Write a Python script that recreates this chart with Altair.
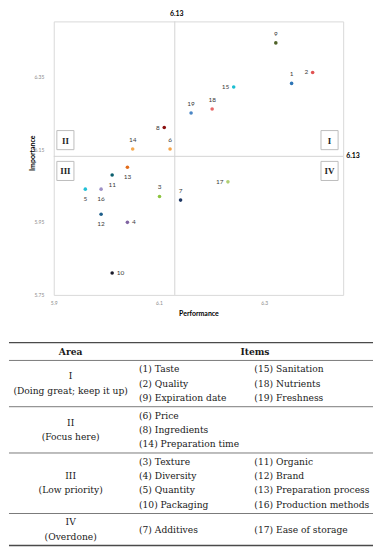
import altair as alt
import pandas as pd

# ---------------- data ----------------
item_ids = list(range(1, 20))
performance = [6.352, 6.392, 6.101, 6.040, 5.960, 6.121, 6.141, 6.110, 6.322, 6.011,
               6.011, 5.990, 6.040, 6.050, 6.242, 5.990, 6.231, 6.201, 6.161]
importance = [6.330, 6.360, 6.020, 5.949, 6.040, 6.150, 6.010, 6.209, 6.441, 5.810,
              6.079, 5.971, 6.100, 6.150, 6.320, 6.040, 6.060, 6.260, 6.249]
point_colors = ["#2e75b6", "#e05252", "#8cc43f", "#8064a2", "#21c0d6", "#f4a347", "#1f3864",
                "#8b1010", "#4f6228", "#1a1a2a", "#0b5f6e", "#1f5f8b", "#e36c1a", "#f5a84e",
                "#1cbfd2", "#9d90c6", "#b0cf74", "#e86868", "#4a86c5"]

label_above = [1, 3, 6, 7, 9, 14, 18, 19]
label_left = [2, 8, 15, 17]
label_below = [5, 11, 12, 13, 16]
label_right = [4, 10]

perf_mean = 6.13
imp_mean = 6.13
x_ticks = [5.9, 6.1, 6.3]
y_ticks = [5.75, 5.95, 6.15, 6.35]
x_domain = [5.9, 6.45]
y_domain = [5.75, 6.5]
quadrant_names = ["I", "II", "III", "IV"]

table_header = ["Area", "Items"]
area_names = ["I", "II", "III", "IV"]
area_notes = ["(Doing great; keep it up)", "(Focus here)", "(Low priority)", "(Overdone)"]
items_col1 = [
    ["(1) Taste", "(2) Quality", "(9) Expiration date"],
    ["(6) Price", "(8) Ingredients", "(14) Preparation time"],
    ["(3) Texture", "(4) Diversity", "(5) Quantity", "(10) Packaging"],
    ["(7) Additives"],
]
items_col2 = [
    ["(15) Sanitation", "(18) Nutrients", "(19) Freshness"],
    [],
    ["(11) Organic", "(12) Brand", "(13) Preparation process", "(16) Production methods"],
    ["(17) Ease of storage"],
]

# ---------------- scatter ----------------
W, H = 291, 275
LEFT = 45  # room for the y axis, shared with the table panel
sans = "Lato"
pts = pd.DataFrame({"id": [str(i) for i in item_ids], "num": item_ids,
                    "perf": performance, "imp": importance})

xs = alt.Scale(domain=x_domain, nice=False, zero=False)
ys = alt.Scale(domain=y_domain, nice=False, zero=False)
X = alt.X("perf:Q", scale=xs, axis=alt.Axis(
    values=x_ticks, format=".1f", title="Performance", labelPadding=5.5, titlePadding=4,
    grid=False, domain=False, ticks=False, labelFlush=False, labelFontSize=5,
    labelColor="#8c8c8c", labelFont=sans, titleFont=sans, titleFontSize=7,
    titleFontWeight="bold", titleColor="#000000"))
Y = alt.Y("imp:Q", scale=ys, axis=alt.Axis(
    values=y_ticks, format=".2f", title="Importance", labelPadding=10,
    grid=False, domain=False, ticks=False, labelFontSize=5, labelColor="#8c8c8c",
    labelFont=sans, titleFont=sans, titleFontSize=7, titleFontWeight="bold",
    titleColor="#000000", minExtent=LEFT, maxExtent=LEFT, titleX=-21, titleY=132,
    titleBaseline="middle", titleAngle=270, titleAlign="center"))

vline = alt.Chart(pd.DataFrame({"perf": [perf_mean]})).mark_rule(
    color="#d4d4d4", strokeWidth=1).encode(X)
hline = alt.Chart(pd.DataFrame({"imp": [imp_mean]})).mark_rule(
    color="#d4d4d4", strokeWidth=1).encode(Y)

points = alt.Chart(pts).mark_circle(size=13, opacity=1).encode(
    X, Y, color=alt.Color("id:N", scale=alt.Scale(domain=[str(i) for i in item_ids],
                                                  range=point_colors), legend=None))


def labels(ids, **kw):
    return alt.Chart(pts).transform_filter(
        alt.FieldOneOfPredicate(field="num", oneOf=ids)
    ).mark_text(font=sans, fontSize=6.5, color="#3a3a3a", baseline="middle", **kw).encode(
        X, Y, text="id:N")


lab_layers = [
    labels(label_above, align="center", dy=-9.3),
    labels(label_left, align="right", dx=-4.5),
    labels(label_below, align="center", dy=10),
    labels(label_right, align="left", dx=4.5),
]

top_lab = alt.Chart(pd.DataFrame({"perf": [perf_mean], "imp": [y_domain[1]],
                                  "t": [f"{perf_mean:.2f}"]})).mark_text(
    font=sans, fontSize=7, fontWeight="bold", color="#000000", dy=-7, dx=2,
    baseline="middle").encode(X, Y, text="t:N")
right_lab = alt.Chart(pd.DataFrame({"perf": [x_domain[1]], "imp": [imp_mean],
                                    "t": [f"{imp_mean:.2f}"]})).mark_text(
    font=sans, fontSize=7, fontWeight="bold", color="#000000", dx=3, align="left",
    baseline="middle").encode(X, Y, text="t:N")

BOX = "M-0.86,-0.96H0.86V0.96H-0.86Z"
quad_layers = []
for q in quadrant_names:
    right = q in ("I", "IV")
    top = q in ("I", "II")
    qdf = pd.DataFrame({"perf": [x_domain[1] if right else x_domain[0]],
                        "imp": [imp_mean], "q": [q]})
    xo = -13.7 if right else 11.7
    yo = -16.3 if top else 14.7
    quad_layers.append(alt.Chart(qdf).mark_point(
        shape=BOX, size=400, filled=True, fill="white", stroke="#bdbdbd",
        strokeWidth=1, opacity=1, xOffset=xo, yOffset=yo).encode(X, Y))
    quad_layers.append(alt.Chart(qdf).mark_text(
        font="Liberation Serif", fontSize=9, fontWeight="bold", color="#262626",
        dx=xo, dy=yo + 0.5, baseline="middle").encode(X, Y, text="q:N"))

scatter = alt.layer(vline, hline, *quad_layers, points, *lab_layers, top_lab, right_lab).properties(
    width=W, height=H, view=alt.ViewBackground(stroke="#d9d9d9", strokeWidth=1))

# ---------------- table ----------------
FULL_W = 366
TW, TH = FULL_W - LEFT, 204
pad = 0.25
text_rows = []
rule_rows = []
pos = 0.0
rule_rows.append({"y": pos, "kind": "outer"})
head_h = 1 + pad
text_rows.append({"t": table_header[0], "y": pos + head_h / 2, "col": "head1"})
text_rows.append({"t": table_header[1], "y": pos + head_h / 2, "col": "head2"})
pos += head_h
rule_rows.append({"y": pos, "kind": "inner"})
for k in range(len(area_names)):
    c1, c2 = items_col1[k], items_col2[k]
    n = max(len(c1), len(c2), 2)
    h = n + pad
    center = pos + h / 2
    text_rows.append({"t": area_names[k], "y": center - 0.5, "col": "area"})
    text_rows.append({"t": area_notes[k], "y": center + 0.5, "col": "area"})
    for col, items in (("c1", c1), ("c2", c2)):
        m = len(items)
        for j, t in enumerate(items):
            text_rows.append({"t": t, "y": center + j - (m - 1) / 2, "col": col})
    pos += h
    rule_rows.append({"y": pos, "kind": "outer" if k == len(area_names) - 1 else "inner"})
total = pos

tdf = pd.DataFrame(text_rows)
rdf = pd.DataFrame(rule_rows)
TY = alt.Y("y:Q", scale=alt.Scale(domain=[0, total], reverse=True, nice=False, zero=False),
           axis=None)
serif = "DejaVu Serif"


def tcol(col, xpx, align, bold=False):
    return alt.Chart(tdf).transform_filter(alt.datum.col == col).mark_text(
        font=serif, fontSize=9.2, color="#1a1a1a", align=align, baseline="middle",
        fontWeight="bold" if bold else "normal").encode(
        x=alt.value(xpx - LEFT), y=TY, text="t:N")


outer_rules = alt.Chart(rdf).transform_filter(alt.datum.kind == "outer").mark_rule(
    color="#4a4a4a", strokeWidth=1.4).encode(y=TY, x=alt.value(-LEFT), x2=alt.value(TW))
inner_rules = alt.Chart(rdf).transform_filter(alt.datum.kind == "inner").mark_rule(
    color="#7a7a7a", strokeWidth=1).encode(y=TY, x=alt.value(-LEFT), x2=alt.value(TW))

table = alt.layer(
    outer_rules, inner_rules,
    tcol("head1", 62, "center", bold=True),
    tcol("head2", 247.3, "center", bold=True),
    tcol("area", 62, "center"),
    tcol("c1", 130.7, "left"),
    tcol("c2", 246.7, "left"),
).properties(width=TW, height=TH)

chart = alt.vconcat(scatter, table, spacing=25).properties(
    padding={"left": 0, "top": 0, "right": 0, "bottom": 0},
    background="white",
).configure_view(strokeWidth=0)

chart.save("out.html", embed_options={"renderer": "svg", "actions": False})
